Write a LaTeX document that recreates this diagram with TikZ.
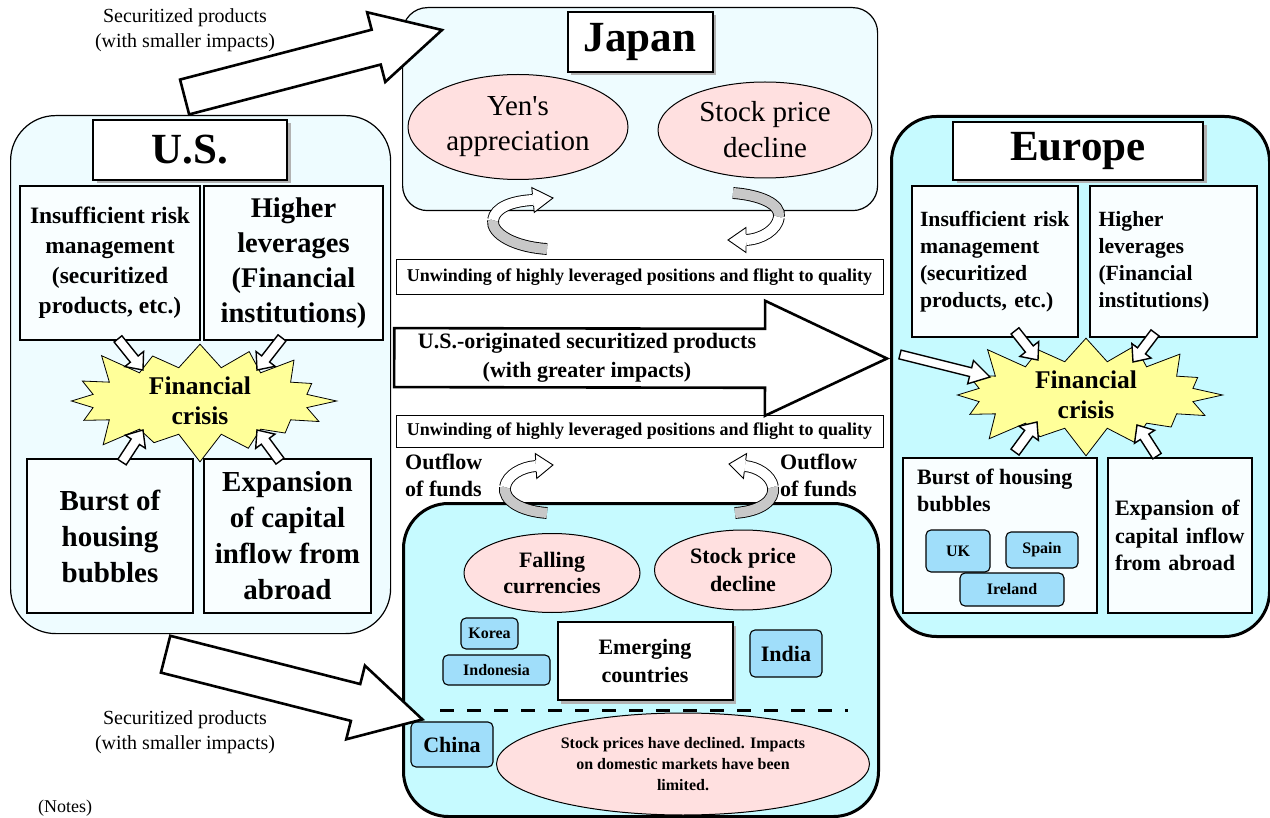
\documentclass[tikz,border=0pt]{standalone}
\usepackage{fontspec}
\setmainfont{Liberation Serif}[Ligatures=TeXOff]
\usetikzlibrary{calc,shapes.geometric,shapes.symbols,shadows}
\tikzset{>=latex}
\definecolor{usfill}{RGB}{238,252,255}
\definecolor{eufill}{RGB}{198,250,255}
\definecolor{boxfill}{RGB}{249,254,255}
\definecolor{ovalfill}{RGB}{255,224,224}
\definecolor{tagfill}{RGB}{160,222,250}
\definecolor{burstfill}{RGB}{255,255,153}
\definecolor{bandgray}{RGB}{200,200,200}
\newcommand\fsz[2]{\fontsize{#1}{#2}\selectfont}
% block arrow: [style]{from}{to}{shaft half width}{head half width}{head length}
\newcommand\fatarrow[6][fatline]{%
  \path (#2) coordinate (fa-a) (#3) coordinate (fa-b);
  \path ($(fa-b)!#6!(fa-a)$) coordinate (fa-h);
  \filldraw[#1] ($(fa-a)!#4!90:(fa-b)$) -- ($(fa-h)!#4!90:(fa-b)$) -- ($(fa-h)!#5!90:(fa-b)$)
    -- (fa-b) -- ($(fa-h)!#5!-90:(fa-b)$) -- ($(fa-h)!#4!-90:(fa-b)$) -- ($(fa-a)!#4!-90:(fa-b)$) -- cycle;}
% head of a loop arrow: {base}{tip}
\newcommand\loophead[2]{%
  \filldraw[fill=white, line width=0.9pt, line join=miter] ($(#1)!5.9pt!90:(#2)$) -- ($(#1)!12.5pt!90:(#2)$)
    -- (#2) -- ($(#1)!12.5pt!-90:(#2)$) -- ($(#1)!5.9pt!-90:(#2)$);}
\tikzset{
  region/.style={draw, rounded corners=45pt, anchor=north west, inner sep=0pt},
  title/.style={draw, line width=2pt, fill=white, inner sep=0pt, font=\bfseries\fsz{43}{50},
    drop shadow={shadow xshift=3.5pt, shadow yshift=-3.5pt, fill=gray!60, opacity=1}},
  cause/.style={draw, line width=1.8pt, fill=boxfill, inner sep=0pt, align=center},
  oval/.style={ellipse, draw, line width=1pt, fill=ovalfill, inner sep=0pt, align=center},
  tag/.style={draw, line width=1.1pt, fill=tagfill, rounded corners=5pt, inner sep=0pt, font=\bfseries\fsz{16}{19}},
  crisis/.style={starburst, starburst points=16, starburst point height=32pt, draw, line width=0.8pt,
    fill=burstfill, inner sep=0pt, align=center, font=\bfseries\fsz{25.5}{30},
    minimum width=282pt, minimum height=126pt},
  bar/.style={draw, line width=1pt, fill=white, inner sep=0pt, font=\bfseries\fsz{18}{21}, minimum width=487pt},
  fatline/.style={draw, fill=white, line width=1.4pt, line join=miter},
  bigline/.style={draw, fill=white, line width=2.6pt, line join=miter},
  grayband/.style={double=bandgray, double distance=10pt, line width=0.9pt},
  whiteband/.style={double=white, double distance=10pt, line width=0.9pt},
  note/.style={align=center, font=\fsz{20}{25}},
  divider/.style={line width=3pt, dash pattern=on 14pt off 13pt},
}
\begin{document}
\begin{tikzpicture}[x=1pt, y=-1pt]
  \useasboundingbox (0,0) rectangle (1270,818);
  %regions
  \node[region, fill=usfill, line width=1.2pt, minimum width=380pt, minimum height=518pt] (us) at (10,115) {};
  \node[region, fill=usfill, line width=1.2pt, rounded corners=25pt, minimum width=475pt, minimum height=203pt] (japan) at (402,7) {};
  \node[region, fill=eufill, line width=3pt, minimum width=378pt, minimum height=520pt] (europe) at (890,115) {};
  \node[region, fill=eufill, line width=3pt, minimum width=475pt, minimum height=313pt] (emerging) at (402,502) {};
  %titles
  \node[title, minimum width=194pt, minimum height=60pt] (ustitle) at (190,150) {U.S.};
  \node[title, minimum width=145pt, minimum height=60pt] (jptitle) at (640,42) {Japan};
  \node[title, minimum width=250pt, minimum height=58pt] (eutitle) at (1078,151) {Europe};
  \node[title, font=\bfseries\fsz{22}{28}, align=center, minimum width=175pt, minimum height=78pt] (emtitle) at (645,661) {Emerging\\countries};
  % U.S.
  \node[cause, font=\bfseries\fsz{23.5}{30}, minimum width=180pt, minimum height=154pt] (usrisk) at (110,263)
    {Insufficient risk\\management\\(securitized\\products, etc.)};
  \node[cause, font=\bfseries\fsz{28.5}{35}, minimum width=179pt, minimum height=154pt] (uslever) at (293.5,263)
    {Higher\\leverages\\(Financial\\institutions)};
  \node[cause, font=\bfseries\fsz{29}{36}, minimum width=166pt, minimum height=154pt] (usbubble) at (110,536)
    {Burst of\\housing\\bubbles};
  \node[cause, font=\bfseries\fsz{29}{36}, minimum width=167pt, minimum height=154pt] (usinflow) at (287.5,536)
    {Expansion\\of capital\\inflow from\\abroad};
  \node[crisis] (uscrisis) at (200,401) {Financial\\crisis};
  \fatarrow{$(usrisk.south)+(8,-2)$}{$(uscrisis.center)+(-57,-31)$}{5pt}{12pt}{14pt}
  \fatarrow{$(uslever.south)+(-11.5,-3)$}{$(uscrisis.center)+(57,-31)$}{5pt}{12pt}{14pt}
  \fatarrow{$(usbubble.north)+(12,4)$}{$(uscrisis.center)+(-57,29)$}{5pt}{12pt}{14pt}
  \fatarrow{$(usinflow.north)+(-7.5,3)$}{$(uscrisis.center)+(57,29)$}{5pt}{12pt}{14pt}
  % Europe
  \node[cause, align=left, font=\bfseries\fsz{21.7}{27}, text width=150pt, minimum width=166pt, minimum height=151pt] (eurisk) at (995,261.5)
    {Insufficient risk\\management\\(securitized\\products, etc.)};
  \node[cause, align=left, font=\bfseries\fsz{21.7}{27}, text width=150pt, minimum width=167pt, minimum height=151pt] (eulever) at (1173.5,261.5)
    {Higher\\leverages\\(Financial\\institutions)};
  \node[cause, minimum width=194pt, minimum height=155pt] (eububble) at (1000,535.5) {};
  \node[anchor=north west, align=left, inner sep=0pt, font=\bfseries\fsz{22}{27}] (eububtext) at (917,469) {Burst of housing\\bubbles};
  \node[tag, minimum width=64pt, minimum height=42pt] (uk) at (958,551) {UK};
  \node[tag, minimum width=72pt, minimum height=36pt] (spain) at (1042,550) {Spain};
  \node[tag, minimum width=104pt, minimum height=33pt] (ireland) at (1012,589.5) {Ireland};
  \node[cause, align=left, font=\bfseries\fsz{22}{27.5}, text width=130pt, minimum width=144pt, minimum height=155pt] (euinflow) at (1180,535.5)
    {Expansion of\\capital inflow\\from abroad};
  \node[crisis] (eucrisis) at (1086,395) {Financial\\crisis};
  \fatarrow{$(eurisk.south)+(20,-7)$}{$(eucrisis.center)+(-48,-35)$}{5pt}{12pt}{14pt}
  \fatarrow{$(eulever.south)+(-18.5,-5)$}{$(eucrisis.center)+(47,-33)$}{5pt}{12pt}{14pt}
  \fatarrow{$(eububble.north)+(15,-5)$}{$(eucrisis.center)+(-49,27)$}{5pt}{12pt}{14pt}
  \fatarrow{$(euinflow.north)+(-23,-1)$}{$(eucrisis.center)+(51,30)$}{5pt}{12pt}{14pt}
  \fatarrow{$(europe.west)+(10,-22)$}{$(eucrisis.center)+(-96,-18)$}{4.5pt}{12pt}{20pt}
  % Japan
  \node[oval, font=\fsz{29}{35}, minimum width=220pt, minimum height=105pt] (yen) at (518,127) {Yen's\\appreciation};
  \node[oval, font=\fsz{29}{36}, minimum width=214pt, minimum height=96pt] (jpstock) at (765,130) {Stock price\\decline};
  % middle
  \node[bar, minimum height=35pt] (topbar) at (639.5,277.5) {Unwinding of highly leveraged positions and flight to quality};
  \node[bar, minimum height=31pt] (botbar) at (639.5,431.5) {Unwinding of highly leveraged positions and flight to quality};
  \fatarrow[bigline]{$(us.east)+(3,-17)$}{$(europe.west)+(-3,-18)$}{29.5pt}{57.5pt}{122pt}
  \node[font=\bfseries\fsz{22}{29}, align=center] (bigtext) at (587,357.5) {U.S.-originated securitized products\\(with greater impacts)};
  \node[anchor=west, align=left, inner sep=0pt, font=\bfseries\fsz{22}{27}] (outleft) at (405,475.5) {Outflow\\of funds};
  \node[anchor=west, align=left, inner sep=0pt, font=\bfseries\fsz{22}{27}] (outright) at (780,475.5) {Outflow\\of funds};
  % emerging countries
  \node[oval, font=\bfseries\fsz{22}{27}, minimum width=176pt, minimum height=79pt] (falling) at (552,573) {Falling\\currencies};
  \node[oval, font=\bfseries\fsz{22}{28}, minimum width=177pt, minimum height=80pt] (emstock) at (743,570) {Stock price\\decline};
  \node[tag, minimum width=57pt, minimum height=31pt] (korea) at (489.5,633.5) {Korea};
  \node[tag, minimum width=107pt, minimum height=30pt] (indonesia) at (496.5,670) {Indonesia};
  \node[tag, font=\bfseries\fsz{22}{26}, minimum width=72pt, minimum height=47pt] (india) at (786,653.5) {India};
  \draw[divider] (440,710) -- (848,710);
  \node[tag, font=\bfseries\fsz{22}{26}, minimum width=82pt, minimum height=45pt] (china) at (452,744.5) {China};
  \node[oval, font=\bfseries\fsz{16}{21}, minimum width=373pt, minimum height=102pt] (chinaoval) at (683,764)
    {Stock prices have declined. Impacts\\on domestic markets have been\\limited.};
  % securitized products to Japan and emerging countries
  \fatarrow[bigline]{$(us.north)+(-16,-18)$}{$(japan.north west)+(40,23)$}{18pt}{36pt}{68pt}
  \fatarrow[bigline]{$(us.south)+(-35,20)$}{$(china.north west)+(12,-2)$}{19pt}{38pt}{69pt}
  \node[note] (uptext) at (185,30.5) {Securitized products\\(with smaller impacts)};
  \node[note] (downtext) at (185,732.5) {Securitized products\\(with smaller impacts)};
  \node[anchor=west, inner sep=0pt, font=\fsz{18}{22}] (notes) at (38,808) {(Notes)};
  % loops
  \draw[grayband] (547,249) .. controls (515,247) and (491,234) .. (493,220);
  \draw[whiteband] (493,220) .. controls (495,207) and (513,201) .. (533,200);
  \loophead{533,200}{553,198}
  \draw[grayband] (733,193) .. controls (760,195) and (781,204) .. (779,217);
  \draw[whiteband] (779,217) .. controls (777,230) and (762,239) .. (746,240);
  \loophead{746,240}{728,240}
  \draw[grayband] (547,513) .. controls (520,511) and (503,500) .. (505,487);
  \draw[whiteband] (505,487) .. controls (507,475) and (522,467) .. (536,466);
  \loophead{536,466}{553,465}
  \draw[grayband] (735,513) .. controls (762,511) and (775,500) .. (773,487);
  \draw[whiteband] (773,487) .. controls (771,475) and (757,467) .. (745,466);
  \loophead{745,466}{729,464}
\end{tikzpicture}
\end{document}
